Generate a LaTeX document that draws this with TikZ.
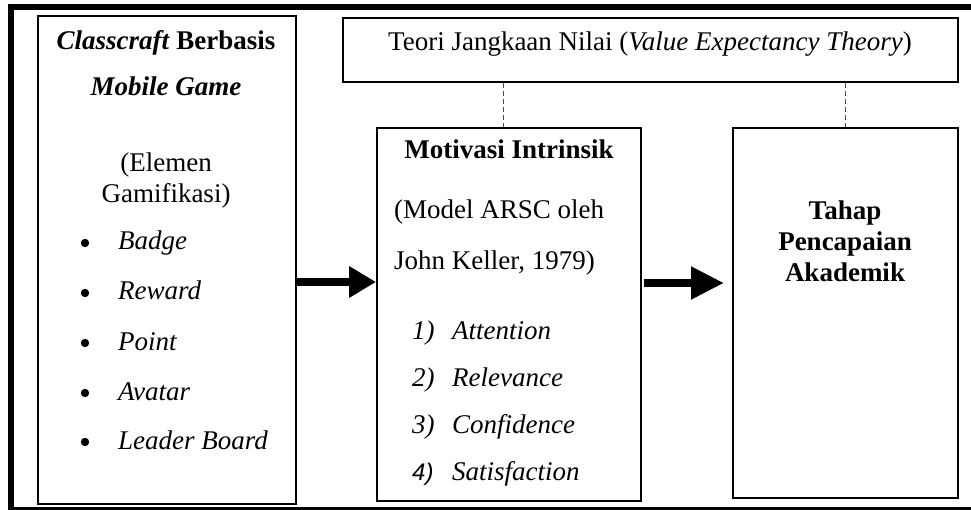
\documentclass[tikz,border=0pt]{standalone}
\usepackage{fontspec}
\setmainfont{Liberation Serif}
\newfontfamily\numfont{Liberation Sans}
\usetikzlibrary{arrows.meta}
\begin{document}
\begin{tikzpicture}[x=1pt,y=-1pt,
  box/.style={draw, line width=1.8pt, rectangle, inner sep=0pt, anchor=north west},
  txt/.style={inner sep=0pt, anchor=base, font=\fontsize{27}{31}\selectfont},
  txtl/.style={txt, anchor=base west},
  dashline/.style={draw=black!70, line width=0.9pt, dash pattern=on 5pt off 3pt},
  bigarrow/.style={line width=8pt, -{Triangle[length=27pt,width=30pt]}},
  frame/.style={line width=6pt}]
\useasboundingbox (0,0) rectangle (971,510);
\draw[frame] (985,7) -- (11,7) -- (11,509.5) -- (985,509.5);
% boxes
\node[box, minimum width=258pt, minimum height=488pt] (L) at (37,15) {};
\node[box, minimum width=615pt, minimum height=64pt] (T) at (342,17) {};
\node[box, minimum width=264pt, minimum height=373pt] (M) at (376,127) {};
\node[box, minimum width=225pt, minimum height=370pt] (R) at (732,127) {};
% dashed links
\coordinate (d1) at (503,0);
\draw[dashline] (d1 |- T.south) -- (d1 |- M.north);
\draw[dashline] (R.north |- T.south) -- (R.north);
% arrows
\coordinate (y1) at (0,282);
\coordinate (y2) at (0,283);
\draw[bigarrow] (L.east |- y1) -- (M.west |- y1);
\draw[bigarrow, -{Triangle[length=33pt,width=31pt]}, shorten <=2pt, shorten >=8pt] (M.east |- y2) -- (R.west |- y2);
% left box text
\node[txt] (l1) at (166,50) {\textbf{\textit{Classcraft} Berbasis}};
\node[txt] (l2) at (166,96) {\textbf{\textit{Mobile Game}}};
\node[txt] (l3) at (166,172) {(Elemen};
\node[txt] (l4) at (166,203) {Gamifikasi)};
\node[txtl] (b1) at (118,250) {\textit{Badge}};
\node[txtl] (b2) at (118,300) {\textit{Reward}};
\node[txtl] (b3) at (118,350) {\textit{Point}};
\node[txtl] (b4) at (118,400) {\textit{Avatar}};
\node[txtl] (b5) at (118,449) {\textit{Leader Board}};
\foreach \yy in {243,293,343,393,442} \fill (85,\yy) circle (4.2pt);
% top text
\node[txt] (t1) at (650,51) {Teori Jangkaan Nilai (\textit{Value Expectancy Theory})};
% middle text
\node[txt] (m1) at (509,159) {\textbf{Motivasi Intrinsik}};
\node[txtl] (m2) at (394,219) {(Model ARSC oleh};
\node[txtl] (m3) at (394,270) {John Keller, 1979)};
\node[txtl] (i1) at (412,339) {\makebox[40pt][l]{\textit{1)}}\textit{Attention}};
\node[txtl] (i2) at (412,386) {\makebox[40pt][l]{\textit{2)}}\textit{Relevance}};
\node[txtl] (i3) at (412,433) {\makebox[40pt][l]{\textit{3)}}\textit{Confidence}};
\node[txtl] (i4) at (412,480) {\makebox[40pt][l]{\numfont\fontsize{24}{28}\selectfont\textit{4)}}\textit{Satisfaction}};
% right text
\node[txt] (r1) at (845,220) {\textbf{Tahap}};
\node[txt] (r2) at (845,251) {\textbf{Pencapaian}};
\node[txt] (r3) at (845,282) {\textbf{Akademik}};
\end{tikzpicture}
\end{document}
